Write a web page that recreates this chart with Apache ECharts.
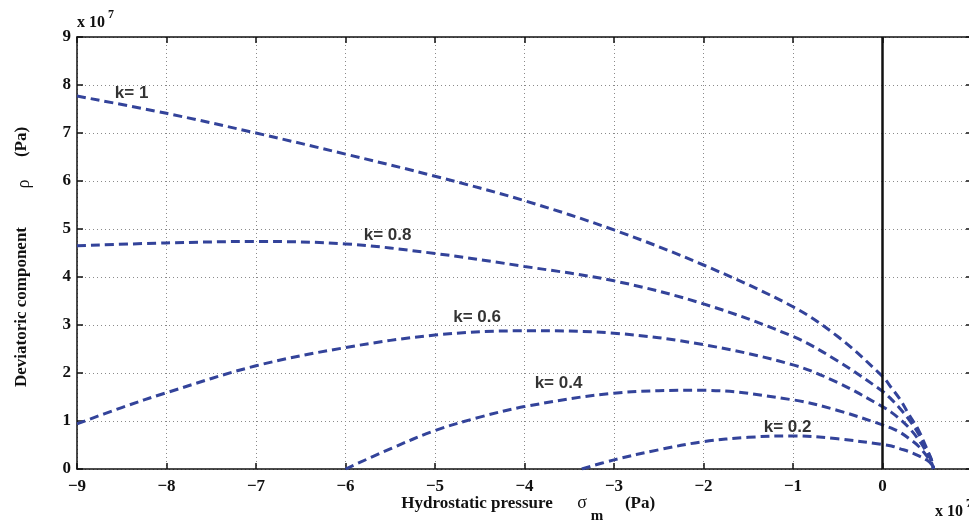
<!DOCTYPE html>
<html><head><meta charset="utf-8">
<script src="https://cdn.jsdelivr.net/npm/echarts/dist/echarts.min.js"></script>
<style>html,body{margin:0;padding:0;background:#fff;overflow:hidden}#c{width:969px;height:521px}</style>
</head><body><div id="c"></div>
<script>
// x values in units of 1e7 Pa, y values in units of 1e7 Pa
const xK1  = [-9, -8, -7, -6, -5, -4, -3, -2, -1, -0.5, 0, 0.1, 0.2, 0.3, 0.4, 0.5, 0.55, 0.57];
const yK1  = [7.77, 7.41, 7.00, 6.56, 6.10, 5.59, 4.98, 4.25, 3.38, 2.76, 1.93, 1.69, 1.44, 1.12, 0.82, 0.40, 0.18, 0];
const xK08 = [-9, -8, -7, -6, -5, -4, -3, -2, -1, -0.5, 0, 0.1, 0.2, 0.3, 0.4, 0.5, 0.55, 0.57];
const yK08 = [4.65, 4.71, 4.74, 4.69, 4.49, 4.22, 3.92, 3.44, 2.76, 2.25, 1.62, 1.45, 1.25, 1.02, 0.74, 0.38, 0.17, 0];
const xK06 = [-9, -8.5, -8, -7, -6, -5, -4, -3, -2, -1, -0.5, 0, 0.1, 0.2, 0.3, 0.4, 0.5, 0.55, 0.57];
const yK06 = [0.94, 1.28, 1.59, 2.15, 2.53, 2.79, 2.88, 2.83, 2.59, 2.17, 1.80, 1.30, 1.18, 1.03, 0.85, 0.62, 0.33, 0.15, 0];
const xK04 = [-6, -5.5, -5, -4.5, -4, -3, -2, -1, -0.5, 0, 0.1, 0.2, 0.3, 0.4, 0.5, 0.55, 0.57];
const yK04 = [0, 0.42, 0.80, 1.08, 1.30, 1.58, 1.64, 1.44, 1.22, 0.92, 0.85, 0.76, 0.63, 0.48, 0.26, 0.12, 0];
const xK02 = [-3.36, -3, -2.5, -2, -1.5, -1, -0.5, 0, 0.1, 0.2, 0.3, 0.4, 0.5, 0.55, 0.57];
const yK02 = [0, 0.19, 0.40, 0.57, 0.66, 0.69, 0.63, 0.51, 0.48, 0.42, 0.36, 0.28, 0.18, 0.09, 0];

const labelText = ['k= 1', 'k= 0.8', 'k= 0.6', 'k= 0.4', 'k= 0.2'];
const labelX    = [-8.39, -5.53, -4.53, -3.62, -1.06];
const labelY    = [7.83, 4.87, 3.17, 1.78, 0.86];

const xMin = -9, xMax = 1, xStep = 1;
const yMin = 0, yMax = 9, yStep = 1;

const zip = (a, b) => a.map((v, i) => [v, b[i]]);
const curves = [[xK1, yK1], [xK08, yK08], [xK06, yK06], [xK04, yK04], [xK02, yK02]];

const SERIF = '"Liberation Serif", "Times New Roman", serif';
const SANS = '"Liberation Sans", Arial, sans-serif';
const BLUE = '#33439a';
const INK = '#111';
const minus = v => (v < 0 ? '\u2212' + (-v) : String(v));

const gridLine = { show: true, lineStyle: { color: '#8a8a8a', width: 1, type: [1, 3] } };
const axLine = { show: true, onZero: false, lineStyle: { color: INK, width: 1.5 } };
const tick = { show: true, inside: true, length: 6, lineStyle: { color: INK, width: 1.5 } };

const chart = echarts.init(document.getElementById('c'), null, { renderer: 'canvas' });

const series = curves.map((c, i) => ({
  type: 'line',
  data: zip(c[0], c[1]),
  smooth: 0.35,
  showSymbol: false,
  symbol: 'none',
  lineStyle: { color: BLUE, width: 3, type: [9, 5] },
  z: 3,
  animation: false
}));

series.push({
  type: 'line',
  data: [],
  markLine: {
    silent: true,
    symbol: ['none', 'none'],
    label: { show: false },
    lineStyle: { color: INK, width: 2.5, type: 'solid' },
    data: [{ xAxis: 0 }],
    animation: false
  },
  z: 4
});

series.push({
  type: 'scatter',
  data: zip(labelX, labelY).map((p, i) => ({ value: p, name: labelText[i] })),
  symbolSize: 0,
  label: {
    show: true,
    position: 'inside',
    formatter: p => p.name,
    fontFamily: SANS,
    fontWeight: 'bold',
    fontSize: 17,
    color: '#000'
  },
  z: 5,
  animation: false
});

chart.setOption({
  animation: false,
  backgroundColor: '#fff',
  grid: { left: 77, top: 37, width: 895, height: 432, containLabel: false, outerBoundsMode: 'none' },
  xAxis: [
    {
      type: 'value', min: xMin, max: xMax, interval: xStep, position: 'bottom',
      axisLine: axLine, axisTick: tick, splitLine: gridLine,
      axisLabel: { formatter: minus, margin: 9, fontFamily: SERIF, fontWeight: 'bold', fontSize: 17, color: INK }
    },
    {
      type: 'value', min: xMin, max: xMax, interval: xStep, position: 'top',
      axisLine: axLine, axisTick: tick, splitLine: { show: false }, axisLabel: { show: false }
    }
  ],
  yAxis: [
    {
      type: 'value', min: yMin, max: yMax, interval: yStep, position: 'left',
      axisLine: axLine, axisTick: tick, splitLine: gridLine,
      axisLabel: { formatter: minus, margin: 6, fontFamily: SERIF, fontWeight: 'bold', fontSize: 17, color: INK }
    },
    {
      type: 'value', min: yMin, max: yMax, interval: yStep, position: 'right',
      axisLine: axLine, axisTick: tick, splitLine: { show: false }, axisLabel: { show: false }
    }
  ],
  series: series,
  graphic: [
    { type: 'text', left: 77, top: 15, style: { text: 'x 10', font: 'bold 16px ' + SERIF, fill: INK } },
    { type: 'text', left: 108, top: 9, style: { text: '7', font: 'bold 12px ' + SERIF, fill: INK } },
    { type: 'text', left: 935, top: 504, style: { text: 'x 10', font: 'bold 16px ' + SERIF, fill: INK } },
    { type: 'text', left: 966, top: 498, style: { text: '7', font: 'bold 12px ' + SERIF, fill: INK } },
    // x axis name
    { type: 'text', x: 477, y: 504, style: { text: 'Hydrostatic pressure', font: 'bold 17px ' + SERIF, fill: INK, align: 'center', verticalAlign: 'middle' } },
    { type: 'text', x: 582, y: 503, style: { text: 'σ', font: '18px ' + SERIF, fill: INK, align: 'center', verticalAlign: 'middle' } },
    { type: 'text', x: 597, y: 516, style: { text: 'm', font: 'bold 15px ' + SERIF, fill: INK, align: 'center', verticalAlign: 'middle' } },
    { type: 'text', x: 640, y: 504, style: { text: '(Pa)', font: 'bold 17px ' + SERIF, fill: INK, align: 'center', verticalAlign: 'middle' } },
    // y axis name (rotated)
    { type: 'text', x: 22, y: 307, rotation: Math.PI / 2, style: { text: 'Deviatoric component', font: 'bold 17px ' + SERIF, fill: INK, align: 'center', verticalAlign: 'middle' } },
    { type: 'text', x: 24, y: 184, rotation: Math.PI / 2, style: { text: 'ρ', font: '18px ' + SERIF, fill: INK, align: 'center', verticalAlign: 'middle' } },
    { type: 'text', x: 22, y: 142, rotation: Math.PI / 2, style: { text: '(Pa)', font: 'bold 17px ' + SERIF, fill: INK, align: 'center', verticalAlign: 'middle' } }
  ]
});
</script>
</body></html>
